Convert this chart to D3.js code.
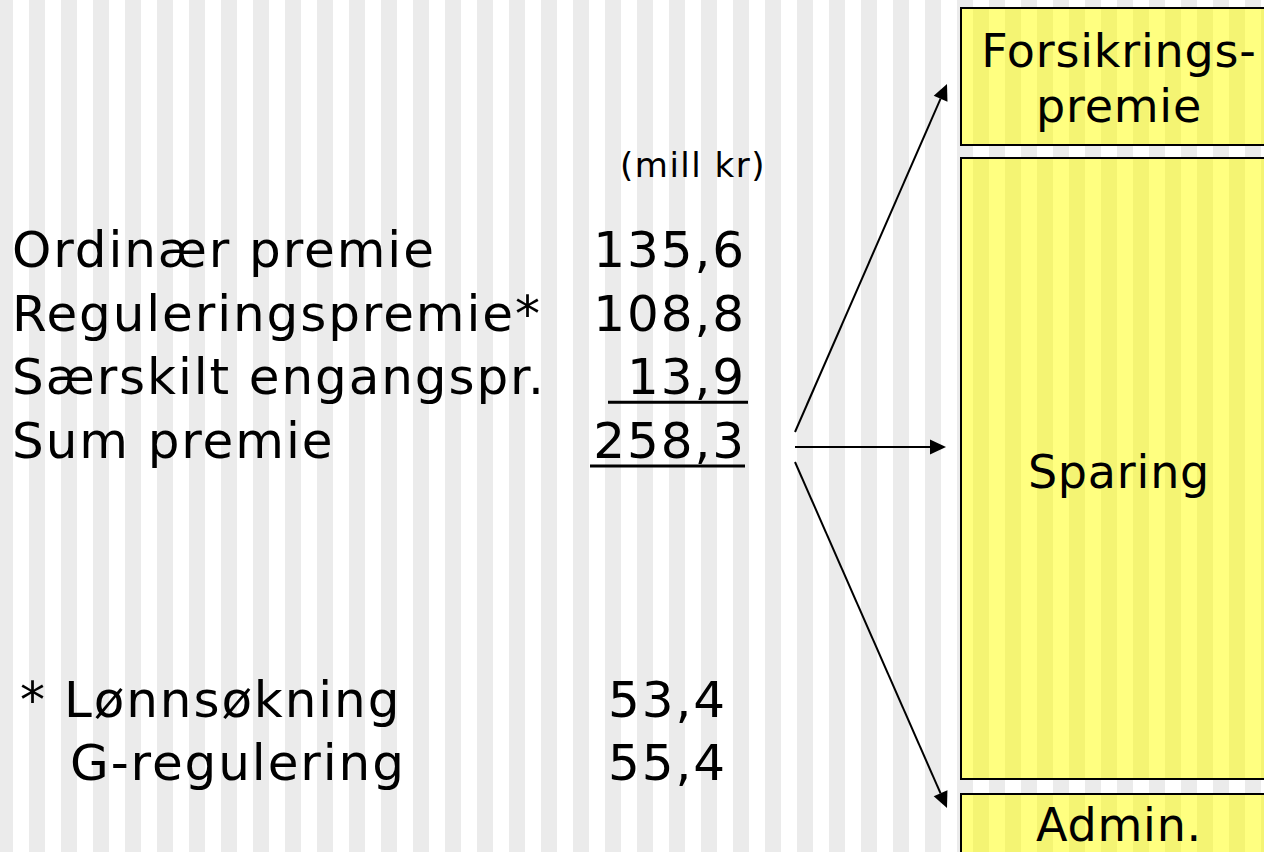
<!DOCTYPE html>
<html><head><meta charset="utf-8">
<script src="https://cdn.jsdelivr.net/npm/d3@7"></script>
<style>html,body{margin:0;padding:0;background:#fff;overflow:hidden}svg{display:block}</style>
</head><body>
<script>
// ---- data ----
const rowLabels = ["Ordinær premie", "Reguleringspremie*", "Særskilt engangspr.", "Sum premie"];
const rowValues = [135.6, 108.8, 13.9, 258.3];
const footMarker = "*";
const footLabels = ["Lønnsøkning", "G-regulering"];
const footValues = [53.4, 55.4];
const unitLabel = "(mill kr)";
const boxLabels = [["Forsikrings-", "premie"], ["Sparing"], ["Admin."]];

// ---- setup ----
const W = 1264, H = 852;
const svg = d3.select("body").append("svg").attr("width", W).attr("height", H);
const nb = d3.formatLocale({decimal: ",", thousands: " ", grouping: [3], currency: ["", " kr"]});
const fmt = nb.format(".1f");
const FONT = "'DejaVu Sans', Verdana, sans-serif";

// background stripes
const stripeX = d3.range(-3, W, 32);
svg.append("g").selectAll("rect").data(stripeX).join("rect")
  .attr("x", d => d).attr("y", 0).attr("width", 16).attr("height", H).attr("fill", "#ebebeb");

// boxes
const boxes = [{y0: 8, y1: 145}, {y0: 158, y1: 779}, {y0: 794, y1: 880}];
const boxX = 961, boxW = 330;
const defs = svg.append("defs");
const bg = svg.append("g");
boxes.forEach((b, i) => {
  defs.append("clipPath").attr("id", "clip" + i).append("rect")
    .attr("x", boxX).attr("y", b.y0).attr("width", boxW).attr("height", b.y1 - b.y0);
  bg.append("rect").attr("x", boxX).attr("y", b.y0).attr("width", boxW).attr("height", b.y1 - b.y0)
    .attr("fill", "#ffff80");
  bg.append("g").attr("clip-path", `url(#clip${i})`).selectAll("rect")
    .data(d3.range(13, W, 32)).join("rect")
    .attr("x", d => d).attr("y", b.y0).attr("width", 16).attr("height", b.y1 - b.y0)
    .attr("fill", "#f4f473");
  bg.append("rect").attr("x", boxX).attr("y", b.y0).attr("width", boxW).attr("height", b.y1 - b.y0)
    .attr("fill", "none").attr("stroke", "#000").attr("stroke-width", 2);
});

// box labels
const boxBase = [[67, 122], [488], [841]];
boxLabels.forEach((lines, i) => {
  lines.forEach((t, j) => {
    svg.append("text").attr("x", 1119).attr("y", boxBase[i][j])
      .attr("text-anchor", "middle").attr("font-family", FONT).attr("font-size", 46)
      .attr("letter-spacing", 0.8).attr("fill", "#000").text(t);
  });
});

// unit
svg.append("text").attr("x", 620).attr("y", 177).attr("font-family", FONT)
  .attr("font-size", 34).attr("letter-spacing", 1.5).text(unitLabel);

// main rows
const y = d3.scaleLinear().domain([0, rowLabels.length - 1]).range([267, 458]);
const g = svg.append("g").attr("font-family", FONT).attr("font-size", 50).attr("letter-spacing", 1.9);
g.selectAll("text.lab").data(rowLabels).join("text").attr("class", "lab")
  .attr("x", 12).attr("y", (d, i) => y(i)).text(d => d);
const numRight = 746;
g.selectAll("text.val").data(rowValues).join("text").attr("class", "val")
  .attr("x", numRight).attr("y", (d, i) => y(i)).attr("text-anchor", "end").text(d => fmt(d));

// underlines under last two values
const ul = [{i: 2, x0: 608, x1: 748}, {i: 3, x0: 590, x1: 745}];
svg.append("g").selectAll("line").data(ul).join("line")
  .attr("x1", d => d.x0).attr("x2", d => d.x1)
  .attr("y1", d => y(d.i) + 8).attr("y2", d => y(d.i) + 8)
  .attr("stroke", "#000").attr("stroke-width", 3);

// footnote
const fy = d3.scaleLinear().domain([0, 1]).range([717, 780]);
g.append("text").attr("x", 20).attr("y", fy(0)).text(footMarker);
g.selectAll("text.flab").data(footLabels).join("text").attr("class", "flab")
  .attr("x", (d, i) => i === 0 ? 64 : 70).attr("y", (d, i) => fy(i)).text(d => d);
g.selectAll("text.fval").data(footValues).join("text").attr("class", "fval")
  .attr("x", 727).attr("y", (d, i) => fy(i)).attr("text-anchor", "end").text(d => fmt(d));

// arrows
const arrows = [
  {x0: 795, y0: 432, x1: 947, y1: 84},
  {x0: 795, y0: 447, x1: 946, y1: 447},
  {x0: 795, y0: 462, x1: 947, y1: 808}
];
const HL = 16, HW = 7.5;
const ag = svg.append("g");
arrows.forEach(a => {
  const ang = Math.atan2(a.y1 - a.y0, a.x1 - a.x0);
  const bx = a.x1 - HL * Math.cos(ang), by = a.y1 - HL * Math.sin(ang);
  ag.append("line").attr("x1", a.x0).attr("y1", a.y0).attr("x2", bx).attr("y2", by)
    .attr("stroke", "#000").attr("stroke-width", 2);
  const px = -Math.sin(ang) * HW, py = Math.cos(ang) * HW;
  ag.append("polygon")
    .attr("points", [[a.x1, a.y1], [bx + px, by + py], [bx - px, by - py]].map(p => p.join(",")).join(" "))
    .attr("fill", "#000");
});
</script>
</body></html>
